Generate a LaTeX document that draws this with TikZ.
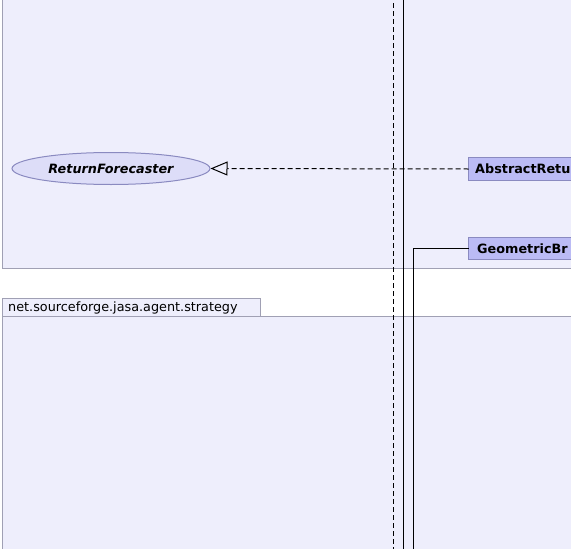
\documentclass[tikz,border=0pt]{standalone}
\usepackage{fontspec}
\setmainfont{DejaVu Sans}
\usetikzlibrary{arrows.meta}
\definecolor{pkgfill}{HTML}{EEEEFC}
\definecolor{pkgline}{HTML}{A0A0B4}
\definecolor{boxfill}{HTML}{BBBBF5}
\definecolor{boxline}{HTML}{8A8AC0}
\definecolor{ellfill}{HTML}{DDDDF8}
\tikzset{
  pkg/.style={draw=pkgline, fill=pkgfill, line width=1pt},
  iface/.style={ellipse, draw=boxline, fill=ellfill, line width=1pt, minimum width=198pt, minimum height=32pt, inner sep=0pt, font=\fontsize{12.8}{14}\selectfont\bfseries\itshape},
  conn/.style={line width=1pt, black},
  realize/.style={conn, dash pattern=on 5pt off 3pt, -{Triangle[open, length=17pt, width=14pt, line width=1pt]}},
  lbl/.style={font=\fontsize{12.8}{14}\selectfont\bfseries, anchor=west, inner sep=0pt}
}
\usetikzlibrary{shapes.geometric}
\begin{document}
\begin{tikzpicture}[x=1pt, y=-1pt]
\useasboundingbox (0,0) rectangle (571,549);
\clip (0,0) rectangle (571,549);
% top package
\path[pkg] (2.5,-10) rectangle (590,268.5);
% bottom package
\path[pkg] (2.5,298.5) rectangle (260.5,316.5);
\path[pkg] (2.5,316.5) rectangle (590,570);
\node[anchor=west, inner sep=0pt, font=\fontsize{12.8}{14}\selectfont] (pkglabel) at (8,308) {net.sourceforge.jasa.agent.strategy};
% interface
\node[iface] (rf) at (111,168.5) {ReturnForecaster};
% class boxes
\path[draw=boxline, fill=boxfill, line width=1pt] (468.5,157.5) rectangle (600,180.5);
\coordinate (arW) at (468.5,169);
\node[lbl] (ar) at (475,169) {AbstractRetu};
\path[draw=boxline, fill=boxfill, line width=1pt] (468.5,237.5) rectangle (600,259.5);
\coordinate (gbW) at (468.5,248.5);
\node[lbl] (gb) at (477,248.5) {GeometricBr};
% vertical connectors running through
\coordinate (dTop) at (393.5,-5);
\coordinate (dBot) at (393.5,560);
\coordinate (sTop) at (403.5,-5);
\coordinate (sBot) at (403.5,560);
\coordinate (gBot) at (413.5,560);
\draw[conn, dash pattern=on 5pt off 3pt] (dTop) -- (dBot);
\draw[conn] (sTop) -- (sBot);
\draw[conn] (gbW) -| (gBot);
% realization
\draw[realize] (arW) -- (rf.east);
\end{tikzpicture}
\end{document}
